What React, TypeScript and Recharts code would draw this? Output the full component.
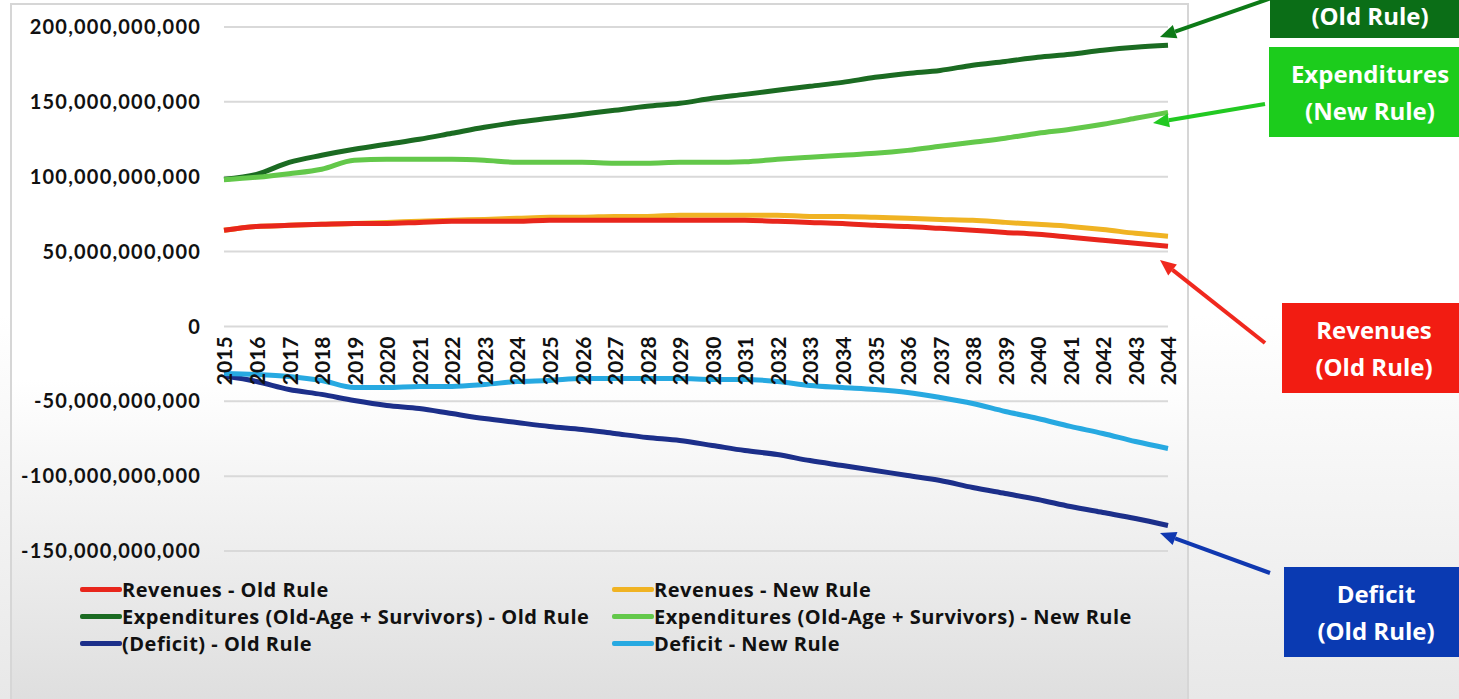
import React from "react";
import { CartesianGrid, Legend, Line, LineChart, ReferenceDot, XAxis, YAxis } from "recharts";

// values in billions
const years = [
  "2015", "2016", "2017", "2018", "2019", "2020", "2021", "2022", "2023", "2024",
  "2025", "2026", "2027", "2028", "2029", "2030", "2031", "2032", "2033", "2034",
  "2035", "2036", "2037", "2038", "2039", "2040", "2041", "2042", "2043", "2044",
];
const revenuesOld = [
  64.2, 66.8, 67.5, 68.2, 68.8, 68.8, 69.5, 70.2, 70.2, 70.2,
  70.9, 70.9, 70.9, 70.9, 70.9, 70.9, 70.9, 70.2, 69.5, 68.8,
  67.5, 66.8, 65.5, 64.2, 62.8, 61.5, 59.5, 57.5, 55.5, 53.5,
];
const revenuesNew = [
  64.2, 66.8, 67.5, 68.2, 68.8, 69.5, 70.2, 70.9, 71.5, 72.2,
  72.9, 72.9, 73.5, 73.5, 74.2, 74.2, 74.2, 74.2, 73.5, 73.5,
  72.9, 72.2, 71.5, 70.9, 69.5, 68.2, 66.8, 64.8, 62.2, 60.2,
];
const expendituresOld = [
  98.3, 101.6, 109.6, 114.3, 118.3, 121.7, 125.0, 129.0, 133.0, 136.4,
  139.0, 141.7, 144.4, 147.0, 149.0, 152.4, 155.0, 157.7, 160.4, 163.0,
  166.4, 169.0, 171.0, 174.5, 177.0, 179.8, 181.8, 184.5, 186.5, 187.8,
];
const expendituresNew = [
  98.0, 99.6, 102.0, 105.0, 111.0, 111.6, 111.6, 111.6, 111.0, 109.6,
  109.6, 109.6, 109.0, 109.0, 109.6, 109.6, 110.0, 111.6, 113.0, 114.3,
  115.6, 117.6, 120.3, 123.0, 125.7, 129.0, 131.7, 135.0, 139.0, 143.0,
];
const deficitOld = [
  -33.0, -36.8, -42.1, -45.4, -49.5, -52.8, -54.8, -58.2, -61.5, -64.2,
  -66.8, -68.8, -71.5, -74.2, -76.2, -79.5, -82.9, -85.6, -89.6, -92.9,
  -96.2, -99.6, -102.9, -107.6, -111.6, -115.6, -120.3, -124.3, -128.3, -133.0,
];
const deficitNew = [
  -31.5, -32.1, -33.4, -36.1, -40.8, -40.8, -40.1, -40.1, -38.8, -36.8,
  -36.1, -34.8, -34.8, -34.8, -34.8, -35.4, -35.4, -36.8, -39.4, -40.8,
  -42.1, -44.1, -47.5, -51.5, -56.8, -61.5, -66.8, -71.5, -76.9, -81.5,
];
const yTicks = [-150, -100, -50, 0, 50, 100, 150, 200];
const legendOrder = [
  "Revenues - Old Rule",
  "Revenues - New Rule",
  "Expenditures (Old-Age + Survivors) - Old Rule",
  "Expenditures (Old-Age + Survivors) - New Rule",
  "(Deficit) - Old Rule",
  "Deficit - New Rule",
];

const B = 1e9;
const data = years.map((year, i) => ({
  year,
  revOld: revenuesOld[i] * B,
  revNew: revenuesNew[i] * B,
  expOld: expendituresOld[i] * B,
  expNew: expendituresNew[i] * B,
  defOld: deficitOld[i] * B,
  defNew: deficitNew[i] * B,
}));

const FONT = "Lato, 'Open Sans', sans-serif";

function YearLabel(props: any) {
  const vb = props.viewBox || {};
  const cx = vb.x + (vb.width || 0) / 2;
  const cy = vb.y + (vb.height || 0) / 2 + 10;
  return (
    <text
      x={cx}
      y={cy}
      transform={`rotate(-90, ${cx}, ${cy})`}
      textAnchor="end"
      dominantBaseline="central"
      fontFamily={FONT}
      fontWeight={700}
      fontSize={21}
      fill="#111"
    >
      {props.year}
    </text>
  );
}

function LegendGrid(props: any) {
  const payload = [...(props.payload || [])].sort(
    (a: any, b: any) => legendOrder.indexOf(a.value) - legendOrder.indexOf(b.value)
  );
  return (
    <div
      style={{
        display: "grid",
        gridTemplateColumns: "532px auto",
        rowGap: 3,
        fontFamily: "'Open Sans', sans-serif",
        fontWeight: 700,
        fontSize: 20,
        letterSpacing: 0.5,
        color: "#111",
      }}
    >
      {payload.map((p: any) => (
        <div key={p.value} style={{ display: "flex", alignItems: "center", height: 24, whiteSpace: "nowrap" }}>
          <span style={{ width: 42, height: 5, background: p.color, display: "inline-block", borderRadius: 2 }} />
          <span>{p.value}</span>
        </div>
      ))}
    </div>
  );
}

function Box({ left, top, width, height = 90, bg, lines }: { left: number; top: number; width: number; height?: number; bg: string; lines: string[] }) {
  return (
    <div
      style={{
        position: "absolute",
        left,
        top,
        width,
        height,
        background: bg,
        color: "#fff",
        fontFamily: "'Open Sans', sans-serif",
        fontWeight: 700,
        fontSize: 24,
        lineHeight: "37px",
        textAlign: "center",
        display: "flex",
        flexDirection: "column",
        justifyContent: "center",
      }}
    >
      {lines.map((l) => (
        <div key={l}>{l}</div>
      ))}
    </div>
  );
}

const arrows = [
  { from: [1300, -12], to: [1160, 37], color: "#0d7a17" },
  { from: [1265, 104], to: [1153, 123], color: "#22c922" },
  { from: [1265, 343], to: [1160, 260], color: "#f0281e" },
  { from: [1270, 573], to: [1160, 533], color: "#1038b0" },
];

export default function App() {
  return (
    <div
      style={{
        position: "absolute",
        left: 0,
        top: 0,
        width: 1459,
        height: 699,
        overflow: "hidden",
        background: "linear-gradient(to bottom, #ffffff 0%, #ffffff 45%, #e8e8e8 100%)",
      }}
    >
      <div
        style={{
          position: "absolute",
          left: 10,
          top: 3,
          width: 1175,
          height: 720,
          border: "2px solid #d6d6d6",
          background: "linear-gradient(to bottom, #ffffff 0%, #ffffff 52%, #dcdcdc 100%)",
        }}
      />
      <div style={{ position: "absolute", left: 0, top: 0 }}>
        <LineChart width={1190} height={699} data={data} margin={{ top: 27, right: 22, left: 10, bottom: 70 }}>
          <CartesianGrid vertical={false} stroke="#d9d9d9" strokeWidth={2} />
          <XAxis dataKey="year" hide />
          <YAxis
            domain={[-150 * B, 200 * B]}
            ticks={yTicks.map((t) => t * B)}
            tickFormatter={(v: number) => v.toLocaleString("en-US")}
            width={214}
            axisLine={false}
            tickLine={false}
            tickMargin={17}
            tick={{ fontSize: 20, fontWeight: 700, fill: "#111", fontFamily: FONT, letterSpacing: 1.2 }}
          />
          <Legend
            content={<LegendGrid />}
            wrapperStyle={{ left: 80, top: 577, width: 1100 }}
          />
          <Line type="monotone" dataKey="revNew" name="Revenues - New Rule" stroke="#f0b323" strokeWidth={5} dot={false} isAnimationActive={false} />
          <Line type="monotone" dataKey="revOld" name="Revenues - Old Rule" stroke="#e8261c" strokeWidth={5} dot={false} isAnimationActive={false} />
          <Line type="monotone" dataKey="expOld" name="Expenditures (Old-Age + Survivors) - Old Rule" stroke="#1b6b22" strokeWidth={5} dot={false} isAnimationActive={false} />
          <Line type="monotone" dataKey="expNew" name="Expenditures (Old-Age + Survivors) - New Rule" stroke="#63c84a" strokeWidth={5} dot={false} isAnimationActive={false} />
          <Line type="monotone" dataKey="defOld" name="(Deficit) - Old Rule" stroke="#1c2f8a" strokeWidth={5} dot={false} isAnimationActive={false} />
          <Line type="monotone" dataKey="defNew" name="Deficit - New Rule" stroke="#27a9e1" strokeWidth={5} dot={false} isAnimationActive={false} />
          {years.map((y) => (
            <ReferenceDot key={y} x={y} y={0} r={1} fill="none" stroke="none" label={<YearLabel year={y} />} />
          ))}
        </LineChart>
      </div>
      <svg width={1459} height={699} style={{ position: "absolute", left: 0, top: 0, pointerEvents: "none" }}>
        {arrows.map((a, i) => {
          const [x1, y1] = a.from;
          const [x2, y2] = a.to;
          const ang = Math.atan2(y2 - y1, x2 - x1);
          const len = 16;
          const w = 7;
          const bx = x2 - len * Math.cos(ang);
          const by = y2 - len * Math.sin(ang);
          const px = -Math.sin(ang) * w;
          const py = Math.cos(ang) * w;
          return (
            <g key={i}>
              <line x1={x1} y1={y1} x2={bx} y2={by} stroke={a.color} strokeWidth={4} />
              <polygon points={`${x2},${y2} ${bx + px},${by + py} ${bx - px},${by - py}`} fill={a.color} />
            </g>
          );
        })}
      </svg>
      <Box left={1270} top={-8} width={200} height={46} bg="#0b6e17" lines={["(Old Rule)"]} />
      <Box left={1269} top={47} width={202} bg="#1ccc1c" lines={["Expenditures", "(New Rule)"]} />
      <Box left={1282} top={303} width={184} bg="#f21c12" lines={["Revenues", "(Old Rule)"]} />
      <Box left={1284} top={567} width={184} bg="#0a3ab2" lines={["Deficit", "(Old Rule)"]} />
    </div>
  );
}
